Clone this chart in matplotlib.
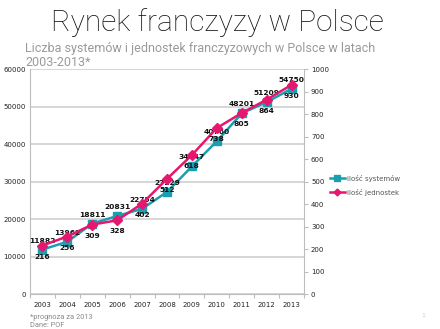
import numpy as np
import matplotlib.pyplot as plt
from matplotlib.ticker import FixedLocator

years = ['2003', '2004', '2005', '2006', '2007', '2008', '2009', '2010', '2011', '2012', '2013']
jednostki = [11882, 13962, 18811, 20831, 22754, 27229, 34047, 40760, 48201, 51209, 54750]
systemy = [216, 256, 309, 328, 402, 512, 618, 738, 805, 864, 930]

teal = '#1a9fb0'
pink = '#e5176e'
grey = '#cfcfcf'
light_font = ['Roboto', 'DejaVu Sans']

fig = plt.figure(figsize=(4.4, 3.29), dpi=100)
fig.patch.set_facecolor('white')

fig.text(0.493, 0.930, 'Rynek franczyzy w Polsce', ha='center', va='center',
         fontsize=21.5, color='#111111', fontweight='light', family=light_font)
fig.text(0.057, 0.853, 'Liczba systemów i jednostek franczyzowych w Polsce w latach',
         ha='left', va='center', fontsize=9, color='#9a9a9a', family=light_font)
fig.text(0.057, 0.809, '2003-2013*',
         ha='left', va='center', fontsize=9, color='#9a9a9a', family=light_font)

ax = fig.add_axes([0.068, 0.106, 0.623, 0.684])
ax2 = ax.twinx()

x = np.arange(len(years))

ax.plot(x, jednostki, color=teal, lw=1.8, marker='s', ms=5.4, mec=teal, zorder=3,
        label='ilość systemów')
ax2.plot(x, systemy, color=pink, lw=1.8, marker='D', ms=5, mec=pink, zorder=4,
         label='ilość jednostek')

ax.set_xlim(-0.5, len(years) - 0.5)
ax.set_ylim(0, 60000)
ax2.set_ylim(0, 1000)
ax.set_yticks(np.arange(0, 60001, 10000))
ax2.set_yticks(np.arange(0, 1001, 100))
ax.set_xticks(x)
ax.set_xticklabels(years)
ax.xaxis.set_minor_locator(FixedLocator(np.arange(-0.5, len(years), 1)))

ax.grid(axis='y', color=grey, lw=1.2)
ax.set_axisbelow(True)

for a in (ax, ax2):
    a.spines['top'].set_visible(False)
    for s in ('left', 'right', 'bottom'):
        a.spines[s].set_color('#bdbdbd')
        a.spines[s].set_linewidth(0.8)
ax.spines['right'].set_visible(False)
ax2.spines['left'].set_visible(False)
ax2.spines['bottom'].set_visible(False)

ax.tick_params(axis='y', length=0, labelsize=5, pad=3, labelcolor='#222222')
ax.tick_params(axis='x', which='major', length=0, labelsize=5, pad=6, labelcolor='#222222')
ax.tick_params(axis='x', which='minor', length=3, color='#bdbdbd', width=0.8)
ax2.tick_params(axis='y', length=3, color='#bdbdbd', labelsize=5, pad=2, labelcolor='#222222')

# numbers of units above the teal line, numbers of systems below the pink one
for xi, v in zip(x, jednostki):
    ax.annotate(str(v), (xi, v), xytext=(0, 6.5), textcoords='offset points',
                ha='center', va='center', fontsize=5.4, fontweight='bold', color='#111111',
                zorder=6)
for xi, v in zip(x, systemy):
    ax2.annotate(str(v), (xi, v), xytext=(0, -8), textcoords='offset points',
                 ha='center', va='center', fontsize=5.4, fontweight='bold', color='#111111',
                 zorder=6)

h1, l1 = ax.get_legend_handles_labels()
h2, l2 = ax2.get_legend_handles_labels()
leg = fig.legend(h1 + h2, l1 + l2, loc='center left', bbox_to_anchor=(0.735, 0.437),
                 frameon=False, fontsize=5, handlelength=2.2, markerscale=0.7,
                 labelspacing=1.0, handletextpad=0.3)
for t in leg.get_texts():
    t.set_color('#555555')

fig.text(0.068, 0.022, '*prognoza za 2013\nDane: POF', ha='left', va='center',
         fontsize=5.3, color='#8a8a8a', linespacing=1.15, family=light_font)
fig.text(0.962, 0.040, '1', ha='center', va='center', fontsize=4.5, color='#cccccc')

fig.savefig('out.png', dpi=100, facecolor='white')
